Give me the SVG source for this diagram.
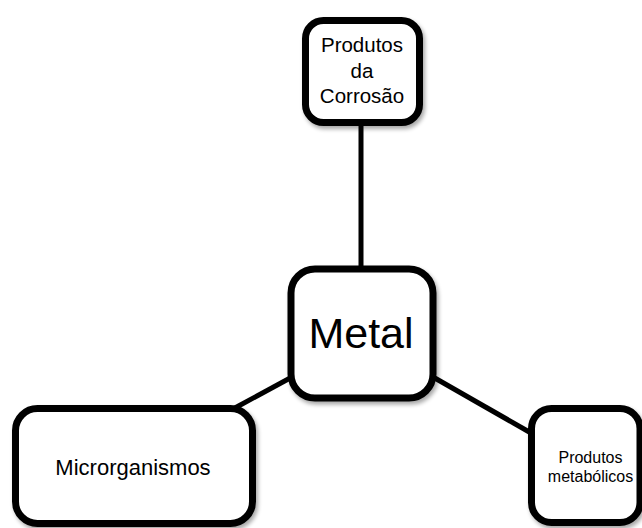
<svg xmlns="http://www.w3.org/2000/svg" width="642" height="528" viewBox="0 0 642 528">
<defs>
<filter id="sh" x="-10%" y="-10%" width="130%" height="130%">
<feGaussianBlur in="SourceAlpha" stdDeviation="2"/>
<feOffset dx="2" dy="3" result="b"/>
<feComponentTransfer><feFuncA type="linear" slope="0.35"/></feComponentTransfer>
<feMerge><feMergeNode/><feMergeNode in="SourceGraphic"/></feMerge>
</filter>
</defs>
<style>
.box{fill:#fff;stroke:#000;stroke-width:7}
.t{font-family:"Liberation Sans",Arial,sans-serif;fill:#000;text-anchor:middle}
.ln{stroke:#000;stroke-width:5;fill:none}
</style>
<rect width="642" height="528" fill="#fff"/>
<g id="connectors">
<line class="ln" x1="361" y1="122" x2="361" y2="268"/>
<line class="ln" x1="292" y1="377" x2="233" y2="409"/>
<line class="ln" x1="433" y1="377" x2="531" y2="433"/>
</g>
<g id="node-corrosao">
<rect class="box" x="305.5" y="20.5" width="114" height="102" rx="18" filter="url(#sh)"/>
<text class="t" font-size="20.5" x="362" y="52">Produtos</text>
<text class="t" font-size="20.5" x="362" y="78">da</text>
<text class="t" font-size="20.5" x="362" y="103">Corrosão</text>
</g>
<g id="node-metal">
<rect class="box" x="291" y="269" width="142" height="129" rx="24" filter="url(#sh)"/>
<text class="t" font-size="43" x="361" y="348">Metal</text>
</g>
<g id="node-micro">
<rect class="box" x="15.5" y="408.5" width="237" height="115" rx="22" filter="url(#sh)"/>
<text class="t" font-size="22" x="133" y="475">Microrganismos</text>
</g>
<g id="node-metabolicos">
<rect class="box" x="531.5" y="408.5" width="108.5" height="114" rx="20" filter="url(#sh)"/>
<text class="t" font-size="16" x="590.5" y="463">Produtos</text>
<text class="t" font-size="16" x="590.5" y="482">metabólicos</text>
</g>
</svg>
